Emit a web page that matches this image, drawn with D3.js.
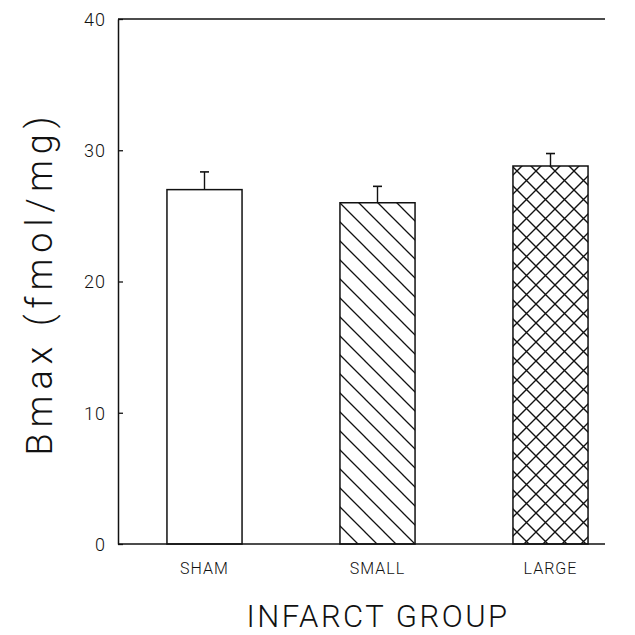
<!DOCTYPE html>
<html>
<head>
<meta charset="utf-8">
<script src="https://cdn.jsdelivr.net/npm/d3@7"></script>
<style>
  body { margin: 0; background: #fff; }
  text { font-family: "Liberation Sans", Arial, sans-serif; fill: #111; }
  .title { font-family: Roboto, "Liberation Sans", sans-serif; font-weight: 300; }
</style>
</head>
<body>
<svg id="chart" width="635" height="635"></svg>
<script>
// data
var groups = ["SHAM", "SMALL", "LARGE"];
var bmax = [27.0, 26.0, 28.8];
var sem = [1.35, 1.25, 0.95];
var fills = ["none", "url(#hatch)", "url(#cross)"];
var yTicks = [0, 10, 20, 30, 40];

var margin = { top: 19, left: 118 };
var plotW = 487, plotH = 525;

var svg = d3.select("#chart");

// hatch patterns
var defs = svg.append("defs");
var hatch = defs.append("pattern")
    .attr("id", "hatch")
    .attr("patternUnits", "userSpaceOnUse")
    .attr("width", 19).attr("height", 19);
hatch.append("path")
    .attr("d", "M-5,-5L24,24M-5,14L5,24M14,-5L24,5")
    .attr("stroke", "#111").attr("stroke-width", 1.3);

var cross = defs.append("pattern")
    .attr("id", "cross")
    .attr("patternUnits", "userSpaceOnUse")
    .attr("width", 19).attr("height", 19);
cross.append("path")
    .attr("d", "M-5,-5L24,24M-5,14L5,24M14,-5L24,5M-5,24L24,-5M-5,5L5,-5M14,24L24,14")
    .attr("stroke", "#111").attr("stroke-width", 1.4);

var g = svg.append("g")
    .attr("transform", "translate(" + margin.left + "," + margin.top + ")");

var x = d3.scaleBand()
    .domain(groups)
    .range([0, 519])
    .paddingInner(0.566)
    .paddingOuter(0.283);

var y = d3.scaleLinear()
    .domain([0, 40])
    .range([plotH, 0]);

// bars
g.selectAll("rect.bar")
    .data(groups)
  .enter().append("rect")
    .attr("class", "bar")
    .attr("x", function(d) { return x(d); })
    .attr("y", function(d, i) { return y(bmax[i]); })
    .attr("width", x.bandwidth())
    .attr("height", function(d, i) { return plotH - y(bmax[i]); })
    .attr("fill", function(d, i) { return fills[i] === "none" ? "#fff" : fills[i]; })
    .attr("stroke", "#111")
    .attr("stroke-width", 1.5);

// error bars (upper only)
var err = g.selectAll("g.err")
    .data(groups)
  .enter().append("g")
    .attr("class", "err");
err.append("line")
    .attr("x1", function(d) { return x(d) + x.bandwidth() / 2; })
    .attr("x2", function(d) { return x(d) + x.bandwidth() / 2; })
    .attr("y1", function(d, i) { return y(bmax[i]); })
    .attr("y2", function(d, i) { return y(bmax[i] + sem[i]); })
    .attr("stroke", "#111").attr("stroke-width", 1.4);
err.append("line")
    .attr("x1", function(d) { return x(d) + x.bandwidth() / 2 - 4.5; })
    .attr("x2", function(d) { return x(d) + x.bandwidth() / 2 + 4.5; })
    .attr("y1", function(d, i) { return y(bmax[i] + sem[i]); })
    .attr("y2", function(d, i) { return y(bmax[i] + sem[i]); })
    .attr("stroke", "#111").attr("stroke-width", 1.6);

// left axis, ticks pointing inward
var yAxis = g.append("g")
    .call(d3.axisLeft(y).tickValues(yTicks).tickSizeInner(-5).tickSizeOuter(0).tickPadding(12));
yAxis.select(".domain").attr("stroke", "#111").attr("stroke-width", 1.5);
yAxis.selectAll(".tick line").attr("stroke", "#111").attr("stroke-width", 1.3);
yAxis.selectAll(".tick text")
    .attr("class", "title")
    .style("font-size", "18px")
    .style("letter-spacing", "1px")
    .attr("dy", "0.35em");

// top and bottom frame lines
g.append("line")
    .attr("x1", 0).attr("x2", plotW)
    .attr("y1", 0).attr("y2", 0)
    .attr("stroke", "#111").attr("stroke-width", 1.5);
g.append("line")
    .attr("x1", 0).attr("x2", plotW)
    .attr("y1", plotH).attr("y2", plotH)
    .attr("stroke", "#111").attr("stroke-width", 1.5);

// category labels
g.selectAll("text.cat")
    .data(groups)
  .enter().append("text")
    .attr("class", "cat title")
    .attr("x", function(d) { return x(d) + x.bandwidth() / 2; })
    .attr("y", plotH + 30)
    .attr("text-anchor", "middle")
    .style("font-size", "16px")
    .style("letter-spacing", "1px")
    .text(function(d) { return d; });

// axis titles
svg.append("text")
    .attr("class", "title")
    .attr("transform", "translate(52,283) rotate(-90)")
    .attr("text-anchor", "middle")
    .style("font-size", "36px")
    .style("letter-spacing", "6px")
    .text("Bmax (fmol/mg)");

svg.append("text")
    .attr("class", "title")
    .attr("x", 378)
    .attr("y", 627)
    .attr("text-anchor", "middle")
    .style("font-size", "31px")
    .style("letter-spacing", "2.5px")
    .text("INFARCT GROUP");
</script>
</body>
</html>
